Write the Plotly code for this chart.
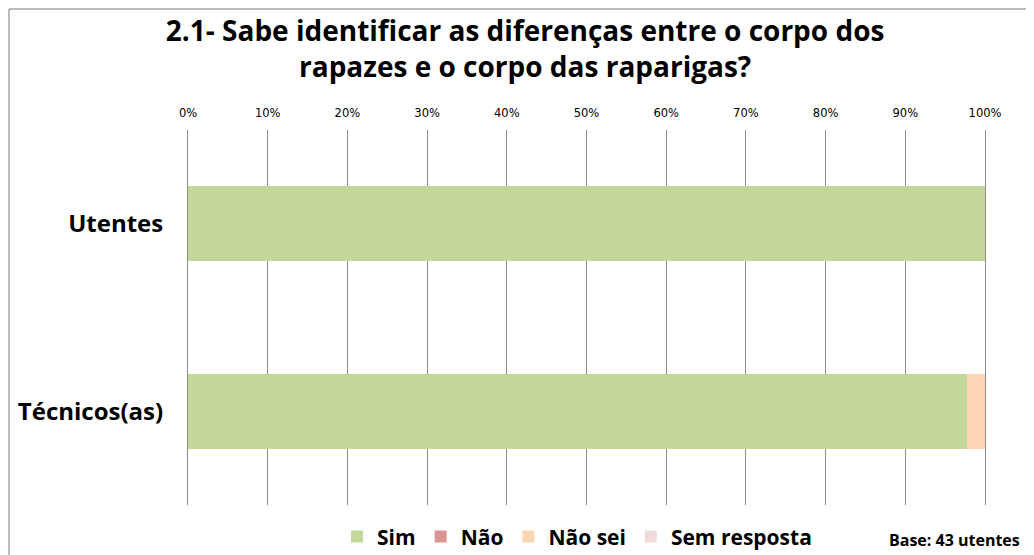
import plotly.graph_objects as go

categories = ["Utentes", "Técnicos(as)"]
series_names = ["Sim", "Não", "Não sei", "Sem resposta"]
sim = [100.0, 97.7]
nao = [0.0, 0.0]
nao_sei = [0.0, 2.3]
sem_resposta = [0.0, 0.0]
colors = ["#C4D79B", "#DA9694", "#FCD5B4", "#F2DCDB"]
tick_vals = list(range(0, 101, 10))
tick_text = [f"{v}%" for v in tick_vals]

fig = go.Figure()
for name, vals, c in zip(series_names, [sim, nao, nao_sei, sem_resposta], colors):
    fig.add_trace(go.Bar(y=categories, x=vals, name=f"<b>{name}</b>", orientation="h",
                         marker=dict(color=c, line=dict(width=0))))

fig.update_layout(
    width=1026, height=547,
    barmode="stack", bargap=0.6,
    paper_bgcolor="white", plot_bgcolor="white",
    margin=dict(l=180, r=49, t=122, b=50, autoexpand=False),
    title=dict(text="<b>2.1- Sabe identificar as diferenças entre o corpo dos<br>rapazes e o corpo das raparigas?</b>",
               x=0.504, xanchor="center", y=0.94, yanchor="top",
               font=dict(family="Open Sans", size=28, color="black")),
    xaxis=dict(range=[0, 100], side="top", tickvals=tick_vals, ticktext=tick_text,
               showgrid=True, gridcolor="#8C8C8C", gridwidth=1, zeroline=False,
               showline=False, ticks="", automargin=False, ticklabelstandoff=10,
               tickfont=dict(family="DejaVu Sans", size=11.5, color="black")),
    yaxis=dict(autorange="reversed", showgrid=False, showline=True, mirror=True,
               linecolor="#8C8C8C", linewidth=1, ticks="",
               automargin=False, ticklabelstandoff=19,
               tickvals=categories, ticktext=[f"<b>{c}</b>" for c in categories],
               tickfont=dict(family="Open Sans", size=24, color="black")),
    legend=dict(orientation="h", x=0.187, xanchor="left", y=-0.03, yanchor="top",
                font=dict(family="Open Sans", size=21, color="black"),
                bgcolor="rgba(0,0,0,0)",
                traceorder="normal", itemwidth=30),
    font=dict(family="Open Sans"),
)

fig.add_annotation(text="<b>Base: 43 utentes</b>", xref="paper", yref="paper",
                   x=1.0464, xanchor="right", y=-0.093, yanchor="middle", showarrow=False,
                   font=dict(family="Open Sans", size=16, color="black"))
# outer frame (left and top edges visible in the reference)
fig.add_shape(type="line", xref="paper", yref="paper", x0=-0.2246, x1=-0.2246,
              y0=-0.2, y1=1.3227, line=dict(color="#A6A6A6", width=1.5), layer="below")
fig.add_shape(type="line", xref="paper", yref="paper", x0=-0.2246, x1=1.1,
              y0=1.3227, y1=1.3227, line=dict(color="#A6A6A6", width=1.5), layer="below")

fig.write_html("out.html")
